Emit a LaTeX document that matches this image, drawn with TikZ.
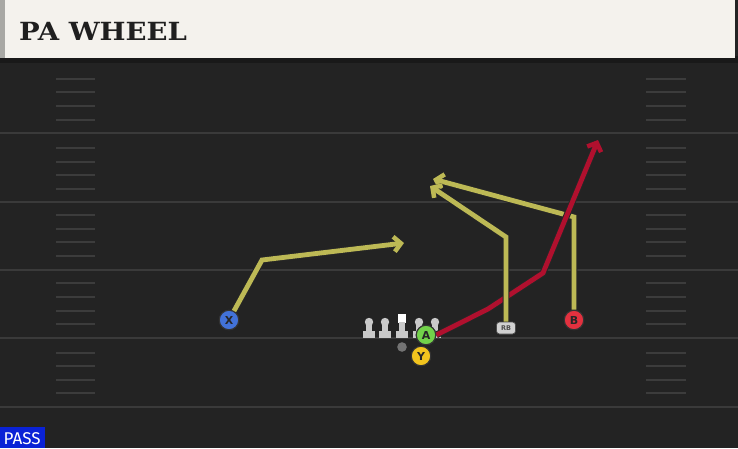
\documentclass[tikz,border=0pt]{standalone}
\usepackage{fontspec}
\usetikzlibrary{arrows.meta}
\newfontfamily\titlefont[FakeStretch=1.1]{DejaVu Serif Bold}
\newfontfamily\plfont{DejaVu Sans Bold}
\newfontfamily\passfont{Fira Sans}
\definecolor{fieldbg}{HTML}{232323}
\definecolor{yardline}{HTML}{3A3A3A}
\definecolor{hashc}{HTML}{3C3C3C}
\definecolor{headerbg}{HTML}{F4F2ED}
\definecolor{headeredge}{HTML}{A8A8A4}
\definecolor{routeolive}{HTML}{BDB955}
\definecolor{routered}{HTML}{B0102E}
\definecolor{xblue}{HTML}{4272D8}
\definecolor{bred}{HTML}{E2313F}
\definecolor{agreen}{HTML}{72D24A}
\definecolor{yyellow}{HTML}{F2C41E}
\definecolor{linegray}{HTML}{C9C9C9}
\definecolor{passblue}{HTML}{0A22D6}
\tikzset{
  yard/.style={draw=yardline, line width=2.2pt},
  hashmark/.style={draw=hashc, line width=1.8pt},
  route/.style={line width=4.8pt, line join=miter, preaction={draw=black!85, line width=6.8pt}},
  rtip/.style={-{Straight Barb[length=7pt,width=15pt,line width=4.5pt]}},
  player/.style={circle, draw=black!80, line width=1.1pt, minimum size=19.5pt, inner sep=0pt, font=\plfont\fontsize{11}{11}\selectfont, text=black!85},
  lineman/.style={fill=linegray},
}
\begin{document}
\begin{tikzpicture}[x=1pt,y=-1pt]
\useasboundingbox (0,0) rectangle (738,448);
\fill[fieldbg] (0,0) rectangle (738,448);
% header
\fill[black!90] (0,56) rectangle (738,63);
\fill[headerbg] (0,0) rectangle (735,58);
\fill[headeredge] (0,0) rectangle (5,58);
\node[anchor=west, font=\titlefont\fontsize{25}{25}\selectfont, text=black!88, inner sep=0pt] (title) at (19,31) {PA WHEEL};
% yard lines
\foreach \yy in {133,202,270,338,407} {\draw[yard] (0,\yy) -- (738,\yy);}
% hash marks
\foreach \yy in {79,92,106,120,148,162,175,189,215,229,242,256,283,297,311,324,353,366,380,393} {
  \draw[hashmark] (56,\yy) -- (95,\yy);
  \draw[hashmark] (646,\yy) -- (686,\yy);
}
% linemen
\foreach \lx in {369,385,419,435} {
  \fill[lineman] (\lx,322) circle (4.2pt);
  \fill[lineman] (\lx-2.7,322) rectangle (\lx+2.7,333);
  \fill[lineman] (\lx-6,331) rectangle (\lx+6,338);
}
\fill[white] (398,314) rectangle (406,322.5);
\fill[lineman] (399.3,322) rectangle (404.7,333);
\fill[lineman] (396,331) rectangle (408,338);
\fill[black!55] (402,347) circle (4.8pt);
% players
\node[player, fill=xblue] (X) at (229,320) {X};
\node[player, fill=bred] (B) at (574,320) {B};
\node[fill=linegray!85, draw=black!70, line width=0.7pt, rounded corners=3pt, minimum width=19pt, minimum height=12pt, inner sep=0pt, font=\plfont\fontsize{6.5}{6.5}\selectfont, text=black!70] (RB) at (506,328) {RB};
% route points
\coordinate (x1) at (262,260);
\coordinate (x2) at (404,243);
\coordinate (r1) at (506,237);
\coordinate (r2) at (430,186);
\coordinate (b1) at (574,217);
\coordinate (b2) at (433,179);
\coordinate (a1) at (488,309);
\coordinate (a2) at (543,273);
\coordinate (a3) at (598,140);
% routes
\draw[route, rtip, draw=routeolive] (X) -- (x1) -- (x2);
\draw[route, rtip, draw=routeolive] (B) -- (b1) -- (b2);
\node[player, fill=agreen] (A) at (426,335) {A};
\draw[route, rtip, draw=routered] (A.east) -- (a1) -- (a2) -- (a3);
\draw[route, rtip, draw=routeolive] (RB) -- (r1) -- (r2);
\node[player, fill=agreen] at (A) {A};
\node[player, fill=yyellow] (Y) at (421,356) {Y};
% pass label
\fill[passblue] (0,427) rectangle (45,448);
\node[anchor=west, font=\passfont\fontsize{17}{17}\selectfont, text=white, inner sep=0pt] (pass) at (3.5,438.5) {PASS};
\end{tikzpicture}
\end{document}
